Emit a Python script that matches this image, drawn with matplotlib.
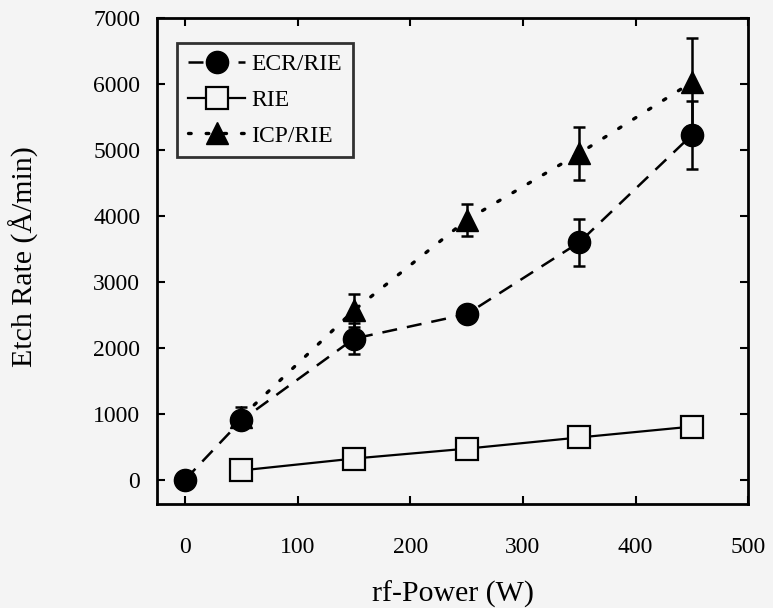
import matplotlib
matplotlib.use("Agg")
import matplotlib.pyplot as plt

power_ecr = [0, 50, 150, 250, 350, 450]
rate_ecr = [0, 900, 2140, 2510, 3600, 5230]
err_ecr = [0, 60, 240, 60, 360, 520]

power_rie = [50, 150, 250, 350, 450]
rate_rie = [140, 320, 470, 640, 805]

power_icp = [50, 150, 250, 350, 450]
rate_icp = [950, 2570, 3940, 4950, 6030]
err_icp = [150, 250, 240, 400, 670]

x_ticks = [0, 100, 200, 300, 400, 500]
y_ticks = [0, 1000, 2000, 3000, 4000, 5000, 6000, 7000]

plt.rcParams['font.family'] = ['Liberation Serif', 'DejaVu Serif']
bg = '#f4f4f4'
fig = plt.figure(figsize=(7.73, 6.08), dpi=100, facecolor=bg)
ax = fig.add_axes([0.203, 0.171, 0.765, 0.799], facecolor=bg)

ax.errorbar(power_icp, rate_icp, yerr=err_icp, fmt='none', ecolor='black',
            capsize=4, elinewidth=1.8, capthick=1.8, zorder=2)
ax.errorbar(power_ecr, rate_ecr, yerr=err_ecr, fmt='none', ecolor='black',
            capsize=4, elinewidth=1.8, capthick=1.8, zorder=2)

l_icp, = ax.plot(power_icp, rate_icp, color='black', linestyle=(0, (0.8, 4.5)),
                 dash_capstyle='round', lw=2.4, marker='^', ms=16, mfc='black',
                 mec='black', label='ICP/RIE', zorder=3)
l_ecr, = ax.plot(power_ecr, rate_ecr, color='black', linestyle=(0, (6, 4)),
                 lw=1.8, marker='o', ms=16, mfc='black', mec='black',
                 label='ECR/RIE', zorder=4)
l_rie, = ax.plot(power_rie, rate_rie, color='black', linestyle='-', lw=1.6,
                 marker='s', ms=16, mfc=bg, mec='black', mew=1.6,
                 label='RIE', zorder=5)

ax.set_xlim(-25, 500)
ax.set_ylim(-370, 7000)
ax.set_xticks(x_ticks)
ax.set_yticks(y_ticks)
ax.tick_params(direction='in', length=6, width=1.5, top=True, right=True,
               labelsize=17, colors='black')
ax.tick_params(axis='x', pad=24)
ax.tick_params(axis='y', pad=12)
for s in ax.spines.values():
    s.set_linewidth(2)

ax.set_xlabel('rf-Power (W)', fontsize=21.5)
ax.set_ylabel('Etch Rate (Å/min)', fontsize=21.5)
ax.yaxis.set_label_coords(-0.20, 0.51)
ax.xaxis.set_label_coords(0.5, -0.158)

leg = ax.legend([l_ecr, l_rie, l_icp], ['ECR/RIE', 'RIE', 'ICP/RIE'],
                loc='upper left', bbox_to_anchor=(0.034, 0.949), borderaxespad=0,
                fontsize=17, frameon=True, fancybox=False, edgecolor='black',
                facecolor=bg, handlelength=2.45, handletextpad=0.25,
                borderpad=0.45, labelspacing=0.6, markerscale=1.0)
leg.get_frame().set_linewidth(2)

fig.savefig('out.png', dpi=100, facecolor=bg)
